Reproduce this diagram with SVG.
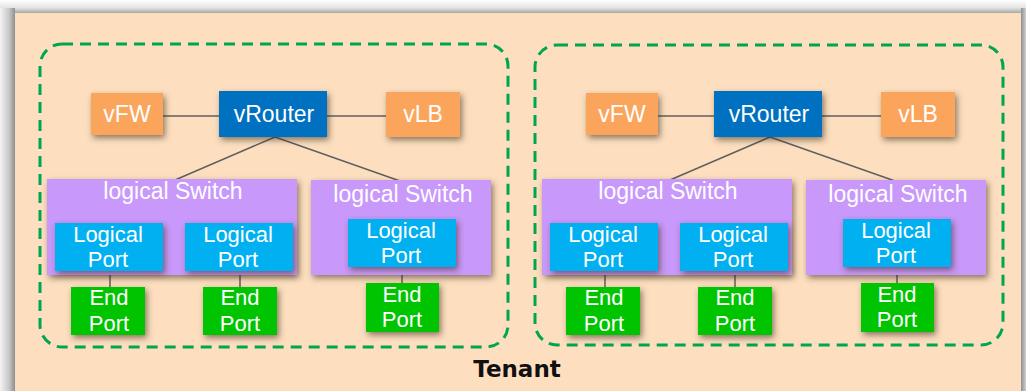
<svg xmlns="http://www.w3.org/2000/svg" width="1026" height="391" viewBox="0 0 1026 391">
  <defs>
    <linearGradient id="shadeLeft" x1="0" y1="0" x2="1" y2="0">
      <stop offset="0" stop-color="#f4f4f4"/>
      <stop offset="0.6" stop-color="#c8c8c8"/>
      <stop offset="1" stop-color="#8f8f8f"/>
    </linearGradient>
    <linearGradient id="shadeTop" x1="0" y1="0" x2="0" y2="1">
      <stop offset="0" stop-color="#ffffff"/>
      <stop offset="0.6" stop-color="#e4e4e4"/>
      <stop offset="1" stop-color="#a8a8a8"/>
    </linearGradient>
    <linearGradient id="shadeRight" x1="0" y1="0" x2="1" y2="0">
      <stop offset="0" stop-color="#8f8f8f"/>
      <stop offset="1" stop-color="#d0d0d0"/>
    </linearGradient>
    <filter id="shadow" x="-30%" y="-30%" width="160%" height="160%">
      <feDropShadow dx="2" dy="3" stdDeviation="3" flood-color="#3a2a20" flood-opacity="0.6"/>
    </filter>
  </defs>
  <style>
    .box { filter: url(#shadow); }
    .fw { fill: #fba55c; }
    .router { fill: #0070c0; }
    .switch { fill: #c998fb; }
    .lport { fill: #00b0f0; }
    .eport { fill: #00c400; }
    .label { font-family: "Liberation Sans", Arial, sans-serif; font-size: 23px; fill: #ffffff; text-anchor: middle; }
    .label2 { font-family: "Liberation Sans", Arial, sans-serif; font-size: 22px; fill: #ffffff; text-anchor: middle; }
    .zone { fill: none; stroke: #00a54f; stroke-width: 3; stroke-dasharray: 11 7; }
    .link { stroke: #5f5f5f; stroke-width: 1.5; fill: none; }
    .title { font-family: "DejaVu Sans", "Liberation Sans", sans-serif; font-weight: bold; font-size: 23px; fill: #111111; text-anchor: middle; }
  </style>

  <!-- page backdrop and frame shading -->
  <rect x="0" y="0" width="1026" height="391" fill="#ffffff"/>
  <rect x="0" y="0" width="1026" height="13" fill="url(#shadeTop)"/>
  <rect x="0" y="8" width="15" height="383" fill="url(#shadeLeft)"/>
  <rect x="1021" y="8" width="5" height="383" fill="url(#shadeRight)"/>
  <rect id="tenant-area" x="15" y="13" width="1006" height="378" fill="#fddfc0"/>

  <!-- dashed tenant zones -->
  <g id="zones">
    <rect class="zone" x="40" y="44" width="468" height="303" rx="22"/>
    <rect class="zone" x="535" y="45" width="468" height="300" rx="22"/>
  </g>

  <!-- connectors -->
  <g id="connectors">
    <line class="link" x1="163" y1="116" x2="219" y2="116"/>
    <line class="link" x1="327" y1="116" x2="386" y2="116"/>
    <line class="link" x1="275" y1="137" x2="175" y2="180"/>
    <line class="link" x1="275" y1="137" x2="400" y2="181"/>
    <line class="link" x1="110" y1="271" x2="110" y2="287"/>
    <line class="link" x1="240" y1="271" x2="240" y2="287"/>
    <line class="link" x1="402" y1="267" x2="402" y2="283"/>

    <line class="link" x1="658" y1="116" x2="714" y2="116"/>
    <line class="link" x1="822" y1="116" x2="881" y2="116"/>
    <line class="link" x1="770" y1="137" x2="670" y2="180"/>
    <line class="link" x1="770" y1="137" x2="895" y2="181"/>
    <line class="link" x1="605" y1="271" x2="605" y2="287"/>
    <line class="link" x1="735" y1="271" x2="735" y2="287"/>
    <line class="link" x1="897" y1="267" x2="897" y2="283"/>
  </g>

  <!-- left tenant network -->
  <g id="vfw-1"><rect class="box fw" x="91" y="93" width="72" height="42"/><text class="label" x="127" y="122">vFW</text></g>
  <g id="vrouter-1"><rect class="box router" x="219" y="91" width="108" height="46"/><text class="label" x="274" y="122">vRouter</text></g>
  <g id="vlb-1"><rect class="box fw" x="386" y="92" width="74" height="45"/><text class="label" x="423" y="122">vLB</text></g>

  <g id="switch-1a"><rect class="box switch" x="47" y="179" width="250" height="96"/><text class="label" x="173" y="199">logical Switch</text></g>
  <g id="switch-1b"><rect class="box switch" x="311" y="180" width="180" height="95"/><text class="label" x="403" y="202">logical Switch</text></g>

  <g id="lport-1a"><rect class="box lport" x="55" y="223" width="108" height="48"/><text class="label2" x="108" y="242">Logical<tspan x="108" dy="25">Port</tspan></text></g>
  <g id="lport-1b"><rect class="box lport" x="185" y="223" width="108" height="48"/><text class="label2" x="238" y="242">Logical<tspan x="238" dy="25">Port</tspan></text></g>
  <g id="lport-1c"><rect class="box lport" x="348" y="219" width="108" height="48"/><text class="label2" x="401" y="238">Logical<tspan x="401" dy="25">Port</tspan></text></g>

  <g id="eport-1a"><rect class="box eport" x="71" y="287" width="74" height="48"/><text class="label2" x="109" y="305">End<tspan x="109" dy="26">Port</tspan></text></g>
  <g id="eport-1b"><rect class="box eport" x="203" y="287" width="74" height="48"/><text class="label2" x="240" y="305">End<tspan x="240" dy="26">Port</tspan></text></g>
  <g id="eport-1c"><rect class="box eport" x="366" y="283" width="73" height="49"/><text class="label2" x="402" y="302">End<tspan x="402" dy="25">Port</tspan></text></g>

  <!-- right tenant network -->
  <g id="vfw-2"><rect class="box fw" x="586" y="93" width="72" height="42"/><text class="label" x="622" y="122">vFW</text></g>
  <g id="vrouter-2"><rect class="box router" x="714" y="91" width="108" height="46"/><text class="label" x="769" y="122">vRouter</text></g>
  <g id="vlb-2"><rect class="box fw" x="881" y="92" width="74" height="45"/><text class="label" x="918" y="122">vLB</text></g>

  <g id="switch-2a"><rect class="box switch" x="542" y="179" width="250" height="96"/><text class="label" x="668" y="199">logical Switch</text></g>
  <g id="switch-2b"><rect class="box switch" x="806" y="180" width="180" height="95"/><text class="label" x="898" y="202">logical Switch</text></g>

  <g id="lport-2a"><rect class="box lport" x="550" y="223" width="108" height="48"/><text class="label2" x="603" y="242">Logical<tspan x="603" dy="25">Port</tspan></text></g>
  <g id="lport-2b"><rect class="box lport" x="680" y="223" width="108" height="48"/><text class="label2" x="733" y="242">Logical<tspan x="733" dy="25">Port</tspan></text></g>
  <g id="lport-2c"><rect class="box lport" x="843" y="219" width="108" height="48"/><text class="label2" x="896" y="238">Logical<tspan x="896" dy="25">Port</tspan></text></g>

  <g id="eport-2a"><rect class="box eport" x="566" y="287" width="74" height="48"/><text class="label2" x="604" y="305">End<tspan x="604" dy="26">Port</tspan></text></g>
  <g id="eport-2b"><rect class="box eport" x="698" y="287" width="74" height="48"/><text class="label2" x="735" y="305">End<tspan x="735" dy="26">Port</tspan></text></g>
  <g id="eport-2c"><rect class="box eport" x="861" y="283" width="73" height="49"/><text class="label2" x="897" y="302">End<tspan x="897" dy="25">Port</tspan></text></g>

  <g id="tenant-title"><text class="title" x="517" y="377">Tenant</text></g>
</svg>
